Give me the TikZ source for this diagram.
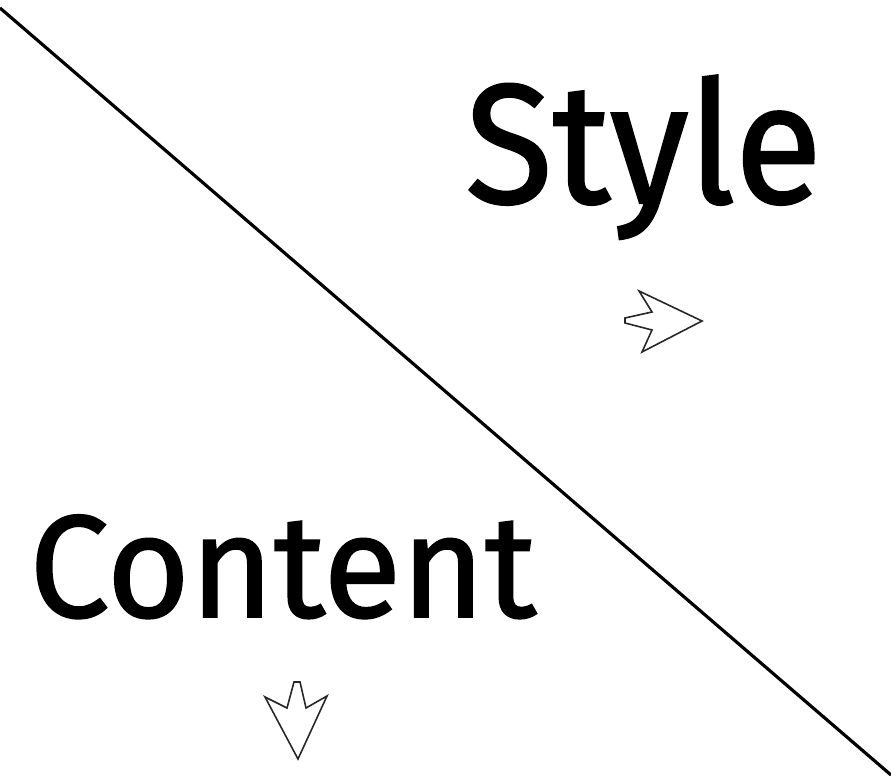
\documentclass[tikz,border=0pt]{standalone}
\usepackage{fontspec}
\setmainfont{Fira Sans}
\newfontfamily\heavysans[FakeBold=1.2]{Fira Sans}
\usepackage{tikz}
\usetikzlibrary{positioning}

\tikzset{
  bigword/.style={inner sep=0pt, anchor=base west},
  hollowarrow/.style={draw=black!85, line width=0.9pt, fill=white, line join=miter},
}

\begin{document}
\begin{tikzpicture}[x=0.02cm, y=-0.02cm]
\useasboundingbox (0,0) rectangle (891,776);
\draw[line width=1.8pt] (0,8) -- (891,775);
\node[bigword, font=\heavysans\fontsize{97}{100}\selectfont] (style) at (465,203) {\scalebox{0.94}[1]{Style}};
\node[bigword, font=\heavysans\fontsize{83}{86}\selectfont] (content) at (29,617) {\scalebox{0.98}[1]{Content}};
% arrows
\draw[hollowarrow] (702,321) -- (639,291) -- (652,312) -- (625,318) -- (625,323)
  -- (652,330) -- (642,352) -- cycle;
\draw[hollowarrow] (298,759) -- (265,697) -- (287,708) -- (294,682) -- (300,682)
  -- (306,708) -- (327,696) -- cycle;
\end{tikzpicture}
\end{document}
